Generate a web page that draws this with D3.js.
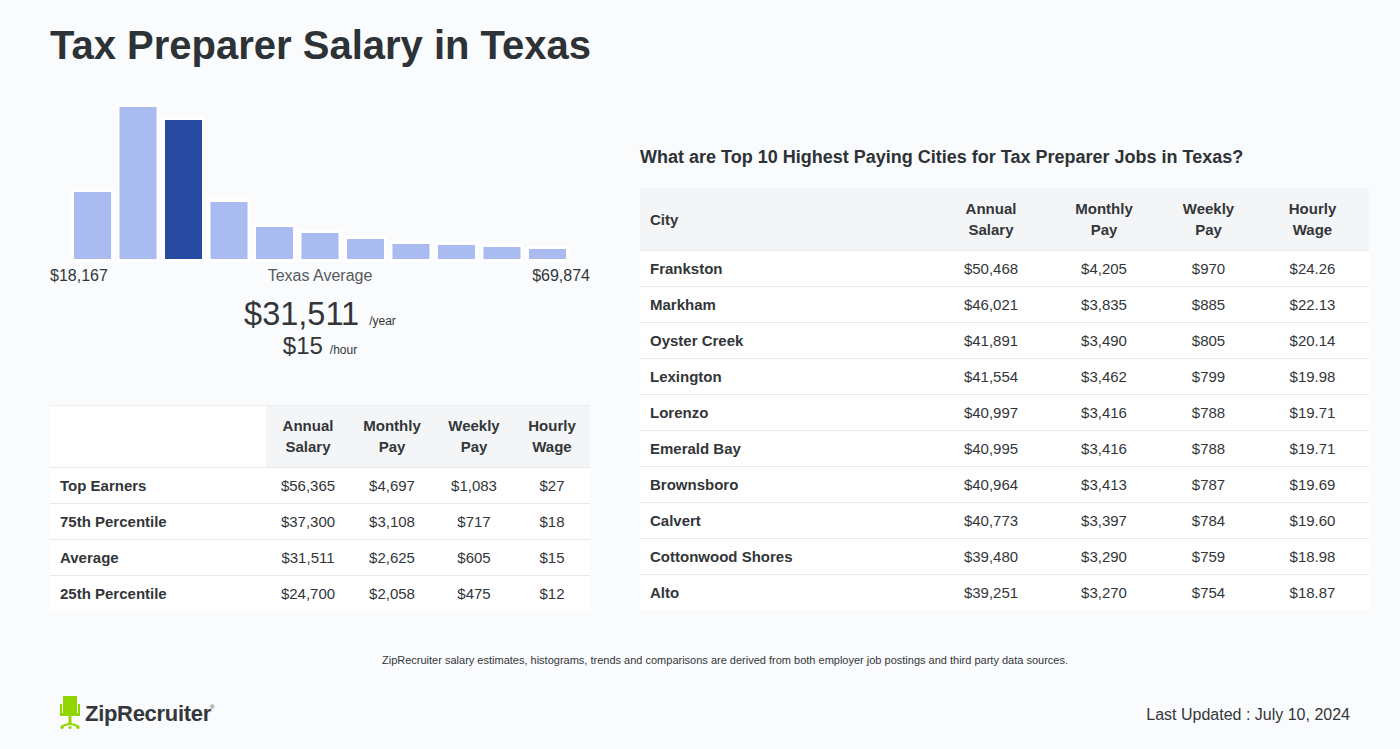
<!DOCTYPE html>
<html>
<head>
<meta charset="utf-8">
<script src="https://cdn.jsdelivr.net/npm/d3@7"></script>
<style>
  html, body { margin: 0; padding: 0; background: #fafbfd; }
  svg { display: block; font-family: "Liberation Sans", Arial, Helvetica, sans-serif; }
</style>
</head>
<body>
<svg id="chart" width="1400" height="749"></svg>
<script>
// ---------- DATA ----------
const titleText = "Tax Preparer Salary in Texas";
const histValues = [67, 152, 139, 57, 32, 26, 20, 15, 14, 12, 10];
const histHighlight = 2;
const histMinLabel = "$18,167";
const histMaxLabel = "$69,874";
const avgLabel = "Texas Average";
const avgYear = "$31,511";
const avgHour = "$15";

const pctHeaders = [["Annual", "Salary"], ["Monthly", "Pay"], ["Weekly", "Pay"], ["Hourly", "Wage"]];
const pctRows = ["Top Earners", "75th Percentile", "Average", "25th Percentile"];
const pctAnnual = ["$56,365", "$37,300", "$31,511", "$24,700"];
const pctMonthly = ["$4,697", "$3,108", "$2,625", "$2,058"];
const pctWeekly = ["$1,083", "$717", "$605", "$475"];
const pctHourly = ["$27", "$18", "$15", "$12"];

const cityTitle = "What are Top 10 Highest Paying Cities for Tax Preparer Jobs in Texas?";
const cities = ["Frankston", "Markham", "Oyster Creek", "Lexington", "Lorenzo", "Emerald Bay", "Brownsboro", "Calvert", "Cottonwood Shores", "Alto"];
const cityAnnual = ["$50,468", "$46,021", "$41,891", "$41,554", "$40,997", "$40,995", "$40,964", "$40,773", "$39,480", "$39,251"];
const cityMonthly = ["$4,205", "$3,835", "$3,490", "$3,462", "$3,416", "$3,416", "$3,413", "$3,397", "$3,290", "$3,270"];
const cityWeekly = ["$970", "$885", "$805", "$799", "$788", "$788", "$787", "$784", "$759", "$754"];
const cityHourly = ["$24.26", "$22.13", "$20.14", "$19.98", "$19.71", "$19.71", "$19.69", "$19.60", "$18.98", "$18.87"];

const footnote = "ZipRecruiter salary estimates, histograms, trends and comparisons are derived from both employer job postings and third party data sources.";
const updated = "Last Updated : July 10, 2024";

// ---------- DRAW ----------
const svg = d3.select("#chart");
const dark = "#2d3237";
const text = "#333639";

svg.append("rect").attr("width", 1400).attr("height", 749).attr("fill", "#fafbfd");

svg.append("text").attr("x", 50).attr("y", 59)
  .attr("font-size", 40).attr("font-weight", "bold").attr("fill", dark).text(titleText);

// Histogram
const x = d3.scaleBand().domain(d3.range(histValues.length)).range([74, 566]).paddingInner(0.186).paddingOuter(0);
const y = d3.scaleLinear().domain([0, d3.max(histValues)]).range([259, 107]);
svg.append("g").selectAll("rect").data(histValues).join("rect")
  .attr("x", (d, i) => x(i))
  .attr("y", d => y(d))
  .attr("width", x.bandwidth())
  .attr("height", d => y(0) - y(d))
  .attr("fill", (d, i) => i === histHighlight ? "#284ba1" : "#a9bbf1")
  .attr("stroke", "#ffffff").attr("stroke-width", 6)
  .style("paint-order", "stroke");

svg.append("text").attr("x", 50).attr("y", 281).attr("font-size", 16).attr("fill", text).text(histMinLabel);
svg.append("text").attr("x", 320).attr("y", 281).attr("font-size", 16).attr("fill", "#555a5e")
  .attr("text-anchor", "middle").text(avgLabel);
svg.append("text").attr("x", 590).attr("y", 281).attr("font-size", 16).attr("fill", text)
  .attr("text-anchor", "end").text(histMaxLabel);

const big = svg.append("text").attr("x", 320).attr("y", 325).attr("text-anchor", "middle").attr("fill", text);
big.append("tspan").attr("font-size", 32.5).text(avgYear);
big.append("tspan").attr("font-size", 12).attr("dx", 10).text("/year");
const small = svg.append("text").attr("x", 320).attr("y", 354).attr("text-anchor", "middle").attr("fill", text);
small.append("tspan").attr("font-size", 24).text(avgHour);
small.append("tspan").attr("font-size", 12).attr("dx", 7).text("/hour");

// Generic table drawer
function drawTable(opts) {
  const g = svg.append("g");
  const { x0, x1, top, headH, rowH, colEdges, labelX, headers, rows, cols, headLabel, headBgStart } = opts;
  g.append("rect").attr("x", x0).attr("y", top).attr("width", x1 - x0).attr("height", headH).attr("fill", "#ffffff");
  g.append("rect").attr("x", headBgStart).attr("y", top).attr("width", x1 - headBgStart).attr("height", headH).attr("fill", "#f4f5f7");
  g.append("rect").attr("x", x0).attr("y", top + headH).attr("width", x1 - x0).attr("height", rowH * rows.length).attr("fill", "#ffffff");
  if (opts.topLine) {
    g.append("line").attr("x1", x0).attr("x2", x1).attr("y1", top + 0.5).attr("y2", top + 0.5).attr("stroke", "#eceef1");
  }
  const hc = top + headH / 2;
  if (headLabel) {
    g.append("text").attr("x", labelX).attr("y", hc + 5.5).attr("font-size", 15).attr("font-weight", "bold").attr("fill", text).text(headLabel);
  }
  headers.forEach((h, j) => {
    const cx = (colEdges[j] + colEdges[j + 1]) / 2;
    h.forEach((line, k) => {
      g.append("text").attr("x", cx).attr("y", hc - 5 + k * 21).attr("text-anchor", "middle")
        .attr("font-size", 15).attr("font-weight", "bold").attr("fill", text).text(line);
    });
  });
  rows.forEach((r, i) => {
    const ry = top + headH + i * rowH;
    g.append("line").attr("x1", x0).attr("x2", x1).attr("y1", ry + 0.5).attr("y2", ry + 0.5).attr("stroke", "#e7e9ec");
    g.append("text").attr("x", labelX).attr("y", ry + rowH / 2 + 6).attr("font-size", 15).attr("font-weight", "bold").attr("fill", text).text(r);
    cols.forEach((c, j) => {
      const cx = (colEdges[j] + colEdges[j + 1]) / 2;
      g.append("text").attr("x", cx).attr("y", ry + rowH / 2 + 6).attr("text-anchor", "middle")
        .attr("font-size", 15).attr("fill", text).text(c[i]);
    });
  });
}

drawTable({
  x0: 50, x1: 590, top: 405, headH: 62, rowH: 36,
  colEdges: [266, 350, 434, 514, 590], labelX: 60,
  headers: pctHeaders, rows: pctRows, cols: [pctAnnual, pctMonthly, pctWeekly, pctHourly],
  headLabel: null, headBgStart: 266, topLine: true
});

svg.append("text").attr("x", 640).attr("y", 163).attr("font-size", 18).attr("font-weight", "bold").attr("fill", dark).text(cityTitle);

drawTable({
  x0: 640, x1: 1369, top: 188, headH: 62, rowH: 36,
  colEdges: [935, 1047, 1161, 1256, 1369], labelX: 650,
  headers: pctHeaders, rows: cities, cols: [cityAnnual, cityMonthly, cityWeekly, cityHourly],
  headLabel: "City", headBgStart: 640, topLine: false
});

svg.append("text").attr("x", 725).attr("y", 664).attr("text-anchor", "middle").attr("font-size", 11).attr("fill", text).text(footnote);

// Logo
const logo = svg.append("g");
const green = "#93d500";
logo.append("rect").attr("x", 63).attr("y", 696).attr("width", 14).attr("height", 18).attr("rx", 1).attr("fill", green);
logo.append("rect").attr("x", 60).attr("y", 704).attr("width", 2).attr("height", 11).attr("fill", green);
logo.append("rect").attr("x", 78).attr("y", 704).attr("width", 2).attr("height", 11).attr("fill", green);
logo.append("rect").attr("x", 60).attr("y", 713).attr("width", 20).attr("height", 3).attr("fill", green);
logo.append("rect").attr("x", 68.5).attr("y", 716).attr("width", 3).attr("height", 8).attr("fill", green);
logo.append("path").attr("d", "M61,727 Q70,721 79,727").attr("fill", "none").attr("stroke", green).attr("stroke-width", 2.2);
logo.append("circle").attr("cx", 62).attr("cy", 727.5).attr("r", 1.6).attr("fill", green);
logo.append("circle").attr("cx", 78).attr("cy", 727.5).attr("r", 1.6).attr("fill", green);
logo.append("circle").attr("cx", 70).attr("cy", 727.5).attr("r", 1.6).attr("fill", green);
logo.append("text").attr("x", 85).attr("y", 721).attr("font-size", 22).attr("font-weight", "bold")
  .attr("fill", "#34383c").attr("letter-spacing", -0.3).text("ZipRecruiter");
logo.append("text").attr("x", 210).attr("y", 709).attr("font-size", 6).attr("fill", "#34383c").text("®");

svg.append("text").attr("x", 1350).attr("y", 720).attr("text-anchor", "end").attr("font-size", 16).attr("fill", text).text(updated);
</script>
</body>
</html>
